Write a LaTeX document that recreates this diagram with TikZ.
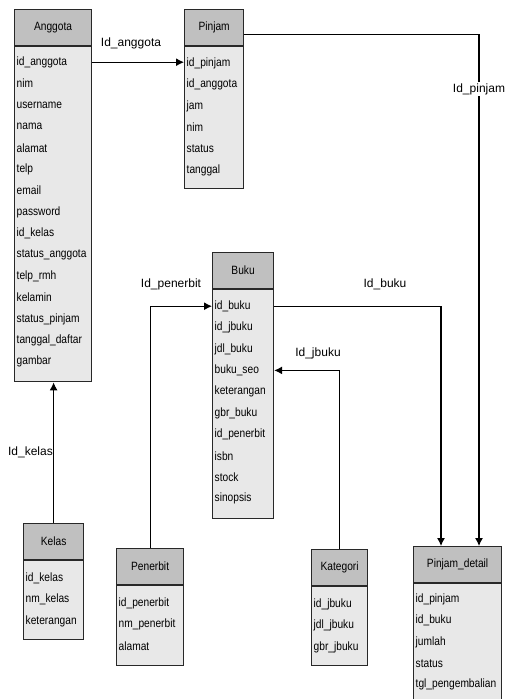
\documentclass[tikz,border=0pt]{standalone}
\usepackage{fontspec}
\setmainfont{Liberation Sans}[FakeStretch=0.85]
\newfontfamily\lblfont{Liberation Sans}
\usetikzlibrary{calc,arrows.meta}
\definecolor{hdrgray}{RGB}{192,192,192}
\definecolor{bdygray}{RGB}{232,232,232}
\definecolor{edge}{RGB}{40,40,40}
\tikzset{
  hdr/.style={draw=edge, line width=1.2pt, fill=hdrgray, minimum height=36pt, inner sep=0pt, font=\fontsize{12}{14}\selectfont},
  bdy/.style={draw=edge, line width=1.2pt, fill=bdygray, inner sep=0pt},
  fld/.style={inner sep=0pt, font=\fontsize{12}{14}\selectfont},
  fk/.style={line width=1.1pt, -{Latex[length=8pt,width=8pt]}},
  lbl/.style={inner sep=1pt, font=\lblfont\fontsize{12}{14}\selectfont},
}
\newcommand\erdtable[8]{%
  \node[hdr, minimum width=#5pt, anchor=north west] (#1h) at (#3,#4) {#2};
  \node[bdy, minimum width=#5pt, minimum height=#6pt, anchor=north west] (#1) at (#1h.south west) {};
  \foreach \t [count=\i] in {#8}
    \node[fld, anchor=west] (#1-\i) at ($(#1.north west)+(2.5,{#7+(\i-1)*21.4})$) {\t};
}
\begin{document}
\begin{tikzpicture}[x=1pt,y=-1pt]
\useasboundingbox (0,0) rectangle (506,699);
\fill[white] (0,0) rectangle (506,699);

\erdtable{anggota}{Anggota}{14}{9}{77}{335}{16}{id\_anggota,nim,username,nama,alamat,telp,email,password,id\_kelas,status\_anggota,telp\_rmh,kelamin,status\_pinjam,tanggal\_daftar,gambar}
\erdtable{pinjam}{Pinjam}{184}{9}{59}{142}{17}{id\_pinjam,id\_anggota,jam,nim,status,tanggal}
\erdtable{buku}{Buku}{212}{252}{61}{229}{17}{id\_buku,id\_jbuku,jdl\_buku,buku\_seo,keterangan,gbr\_buku,id\_penerbit,isbn,stock,sinopsis}
\erdtable{kelas}{Kelas}{23}{523}{60}{79}{18}{id\_kelas,nm\_kelas,keterangan}
\erdtable{penerbit}{Penerbit}{116}{548}{67}{80}{18}{id\_penerbit,nm\_penerbit,alamat}
\erdtable{kategori}{Kategori}{311}{549}{56}{79}{18}{id\_jbuku,jdl\_jbuku,gbr\_jbuku}
\erdtable{pinjamdetail}{Pinjam\_detail}{413}{546}{88}{116}{16}{id\_pinjam,id\_buku,jumlah,status,tgl\_pengembalian}

\coordinate (pdbuku) at ($(pinjamdetailh.north west)+(28,0)$);
\coordinate (pdpinjam) at ($(pinjamdetailh.north west)+(66,0)$);
\coordinate (pinjamout) at ($(pinjamh.east)+(0,7)$);

% connectors
\draw[fk] (anggota-1 -| anggota.east) -- (anggota-1 -| pinjam.west);
\draw[fk] (pinjamout) -| (pdpinjam);
\draw[fk] (buku-1 -| buku.east) -| (pdbuku);
\draw[fk] (penerbith.north) |- (buku-1 -| buku.west);
\draw[fk] (kategorih.north) |- (buku-4 -| buku.east);
\draw[fk] (kelash.north) -- (kelash.north |- anggota.south);

% labels
\node[lbl] (l-anggota) at (131,43) {Id\_anggota};
\node[lbl, fill=white] (l-pinjam) at (479,89) {Id\_pinjam};
\node[lbl] (l-penerbit) at (171,284) {Id\_penerbit};
\node[lbl] (l-buku) at (385,284) {Id\_buku};
\node[lbl] (l-jbuku) at (318,353) {Id\_jbuku};
\node[lbl, anchor=east] (l-kelas) at (54,452) {Id\_kelas};
\end{tikzpicture}
\end{document}
